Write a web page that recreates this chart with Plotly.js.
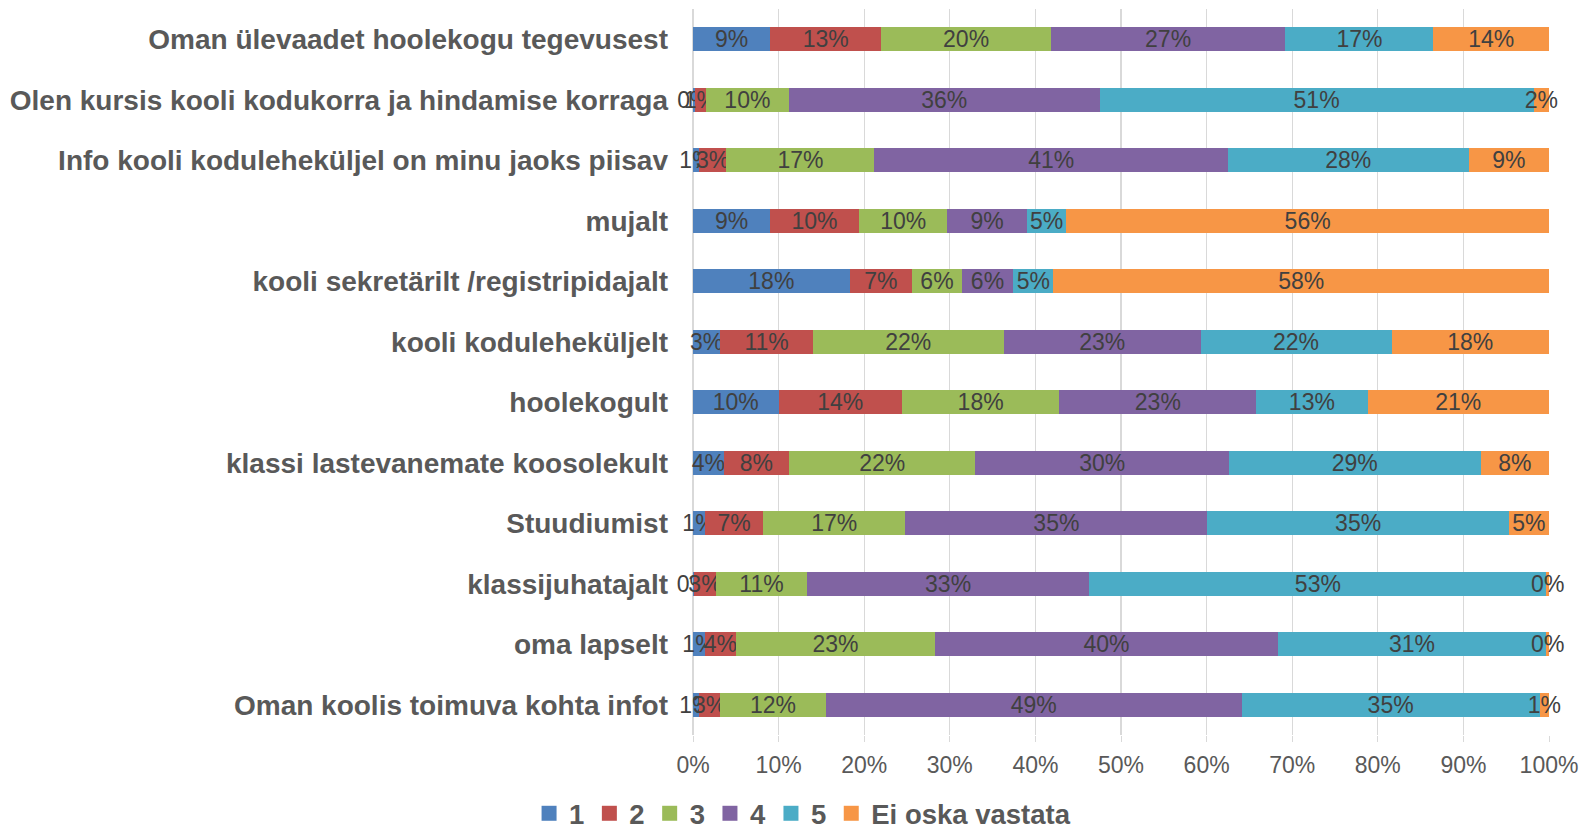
<!DOCTYPE html>
<html>
<head>
<meta charset="utf-8">
<script src="https://cdn.plot.ly/plotly-3.0.1.min.js"></script>
<style>html,body{margin:0;padding:0;background:#fff;}#chart{width:1583px;height:830px;}</style>
</head>
<body>
<div id="chart"></div>
<script>
const categories = [
  "Oman ülevaadet hoolekogu tegevusest",
  "Olen kursis kooli kodukorra ja hindamise korraga",
  "Info kooli koduleheküljel on minu jaoks piisav",
  "mujalt",
  "kooli sekretärilt /registripidajalt",
  "kooli koduleheküljelt",
  "hoolekogult",
  "klassi lastevanemate koosolekult",
  "Stuudiumist",
  "klassijuhatajalt",
  "oma lapselt",
  "Oman koolis toimuva kohta infot"
];
const seriesNames = ["1", "2", "3", "4", "5", "Ei oska vastata"];
const s1 = [9.0, 0.2, 0.7, 9.0, 18.3, 3.2, 10.0, 3.6, 1.4, 0.1, 1.4, 0.7];
const s2 = [13.0, 1.3, 3.2, 10.4, 7.3, 10.8, 14.4, 7.6, 6.8, 2.6, 3.6, 2.5];
const s3 = [19.8, 9.7, 17.3, 10.3, 5.8, 22.3, 18.4, 21.8, 16.6, 10.6, 23.3, 12.3];
const s4 = [27.4, 36.3, 41.3, 9.3, 6.0, 23.0, 23.0, 29.6, 35.3, 33.0, 40.0, 48.6];
const s5 = [17.3, 50.7, 28.1, 4.6, 4.7, 22.3, 13.0, 29.4, 35.2, 53.4, 31.4, 34.8];
const s6 = [13.5, 1.8, 9.4, 56.4, 57.9, 18.4, 21.2, 8.0, 4.7, 0.3, 0.3, 1.1];
const xTicks = [0, 10, 20, 30, 40, 50, 60, 70, 80, 90, 100];
const colors = ["#4f81bd", "#c0504d", "#9bbb59", "#8064a2", "#4bacc6", "#f79646"];

const FONT = "Liberation Sans, Arial, sans-serif";
const allSeries = [s1, s2, s3, s4, s5, s6];
const traces = allSeries.map((vals, i) => ({
  type: "bar",
  orientation: "h",
  name: seriesNames[i],
  y: categories,
  x: vals,
  showlegend: false,
  marker: { color: colors[i], line: { width: 0 } },
  texttemplate: "%{x:.0f}%",
  textposition: "inside",
  insidetextanchor: "middle",
  textangle: 0,
  constraintext: "none",
  cliponaxis: false,
  insidetextfont: { family: FONT, size: 23, color: "#404040" },
  hoverinfo: "skip"
}));

// legend-only entries with larger square swatches
seriesNames.forEach((nm, i) => {
  traces.push({
    type: "scatter",
    mode: "markers",
    name: nm,
    x: [null],
    y: [null],
    showlegend: true,
    marker: { symbol: "square", size: 15, color: colors[i] },
    hoverinfo: "skip"
  });
});

const layout = {
  width: 1583,
  height: 830,
  margin: { l: 692.5, r: 34.3, t: 9, b: 95, autoexpand: false },
  paper_bgcolor: "#ffffff",
  plot_bgcolor: "#ffffff",
  barmode: "stack",
  bargap: 0.61,
  showlegend: true,
  font: { family: FONT, color: "#595959" },
  xaxis: {
    range: [0, 100],
    tickvals: xTicks,
    ticktext: xTicks.map(v => v + "%"),
    showgrid: true,
    gridcolor: "#d9d9d9",
    gridwidth: 1.3,
    zeroline: true,
    zerolinecolor: "#d9d9d9",
    zerolinewidth: 1.3,
    showline: false,
    ticks: "outside",
    ticklen: 6,
    tickcolor: "#d9d9d9",
    ticklabelstandoff: 3,
    tickfont: { family: FONT, size: 23, color: "#595959" },
    fixedrange: true
  },
  yaxis: {
    type: "category",
    autorange: "reversed",
    showgrid: false,
    zeroline: false,
    showline: false,
    ticks: "",
    ticklabelstandoff: 24,
    tickfont: { family: FONT, size: 28, color: "#595959", weight: "bold" },
    fixedrange: true
  },
  legend: {
    orientation: "h",
    x: 0.128,
    xanchor: "center",
    y: -0.108,
    yanchor: "middle",
    itemwidth: 30,
    font: { family: FONT, size: 27.5, color: "#595959", weight: "bold" },
    itemclick: false,
    itemdoubleclick: false,
    traceorder: "normal"
  }
};

Plotly.newPlot("chart", traces, layout, { displayModeBar: false, staticPlot: true });
</script>
</body>
</html>
